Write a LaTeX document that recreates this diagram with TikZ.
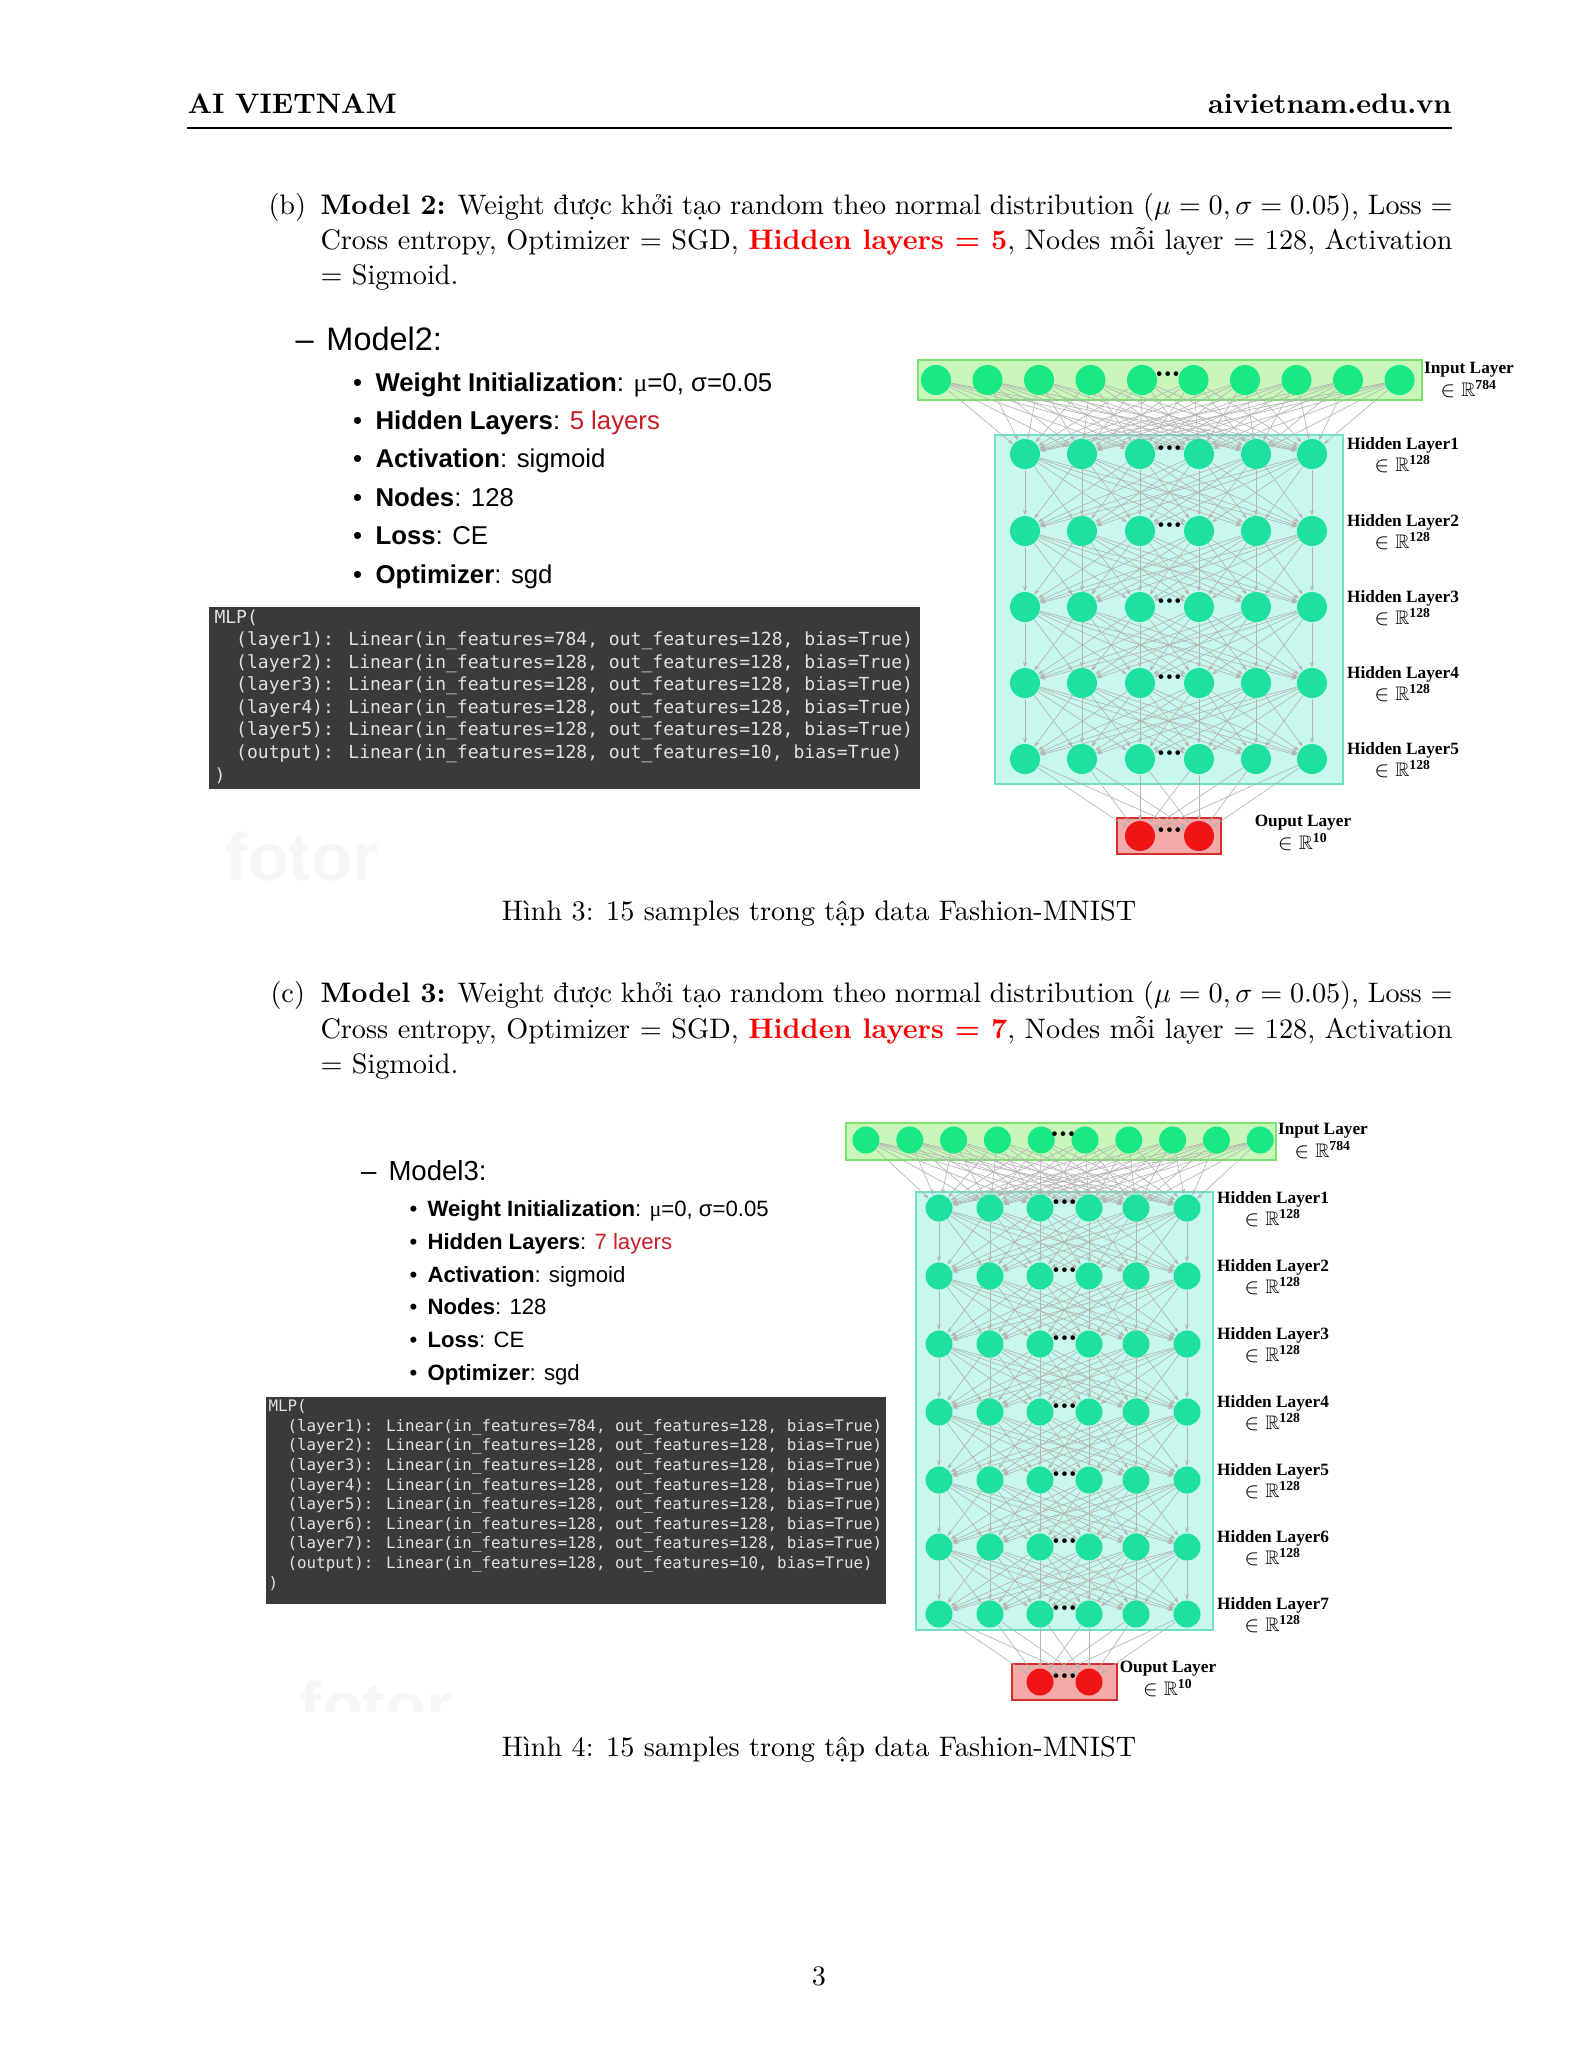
\documentclass[tikz,border=0pt]{standalone}
\usepackage{fontspec}
\usepackage{amssymb}
\usetikzlibrary{arrows.meta,backgrounds}
\pgfdeclarelayer{edges}
\pgfsetlayers{background,edges,main}

\newfontfamily\slidefont{Liberation Sans}
\newfontfamily\codefont{DejaVu Sans Mono}
\newfontfamily\netfont{Liberation Serif}

\newdimen\pxd
\pxd=0.013639cm
\newcommand\ind{\hspace*{1.204em}}
\newcommand\inR[1]{{\fontsize{7.6}{8}\selectfont$\in\mathbb{R}$\textsuperscript{#1}}}
\newcommand\netdots{{\netfont\bfseries\fontsize{11}{11}\selectfont ·\kern-0.4pt·\kern-0.4pt·}}

\definecolor{slidered}{RGB}{200,30,40}
\definecolor{codebg}{RGB}{58,58,58}
\definecolor{codefg}{RGB}{225,225,225}
\definecolor{inputnode}{RGB}{25,232,135}
\definecolor{hiddennode}{RGB}{30,225,160}
\definecolor{outputnode}{RGB}{240,20,20}
\definecolor{inputfill}{RGB}{200,247,185}
\definecolor{inputline}{RGB}{125,225,110}
\definecolor{hiddenfill}{RGB}{200,248,235}
\definecolor{hiddenline}{RGB}{110,225,200}
\definecolor{outputfill}{RGB}{245,170,170}
\definecolor{outputline}{RGB}{215,45,45}
\definecolor{edgegray}{RGB}{180,180,180}

\tikzset{
    body/.style      = {font=\fontsize{10.95}{13.6}\selectfont, inner sep=0pt,
                        text height=0.7em, text depth=0.2em},
    headtext/.style  = {body, font=\fontsize{10.95}{13.6}\selectfont\bfseries},
    headA/.style     = {anchor=west, inner sep=0pt, text height=0.75em, text depth=0.2em,
                        font=\slidefont\fontsize{12.6}{15}\selectfont},
    bulletA/.style   = {anchor=west, inner sep=0pt, text height=0.75em, text depth=0.2em,
                        font=\slidefont\fontsize{10}{12}\selectfont},
    headB/.style     = {headA, font=\slidefont\fontsize{10.7}{13}\selectfont},
    bulletB/.style   = {bulletA, font=\slidefont\fontsize{8.6}{10.5}\selectfont},
    codebox/.style   = {fill=codebg, draw=none, inner sep=0pt, anchor=north west},
    codetext/.style  = {text=codefg, align=left, inner sep=0pt, anchor=north west},
    watermark/.style = {font=\slidefont\bfseries\fontsize{26}{26}\selectfont,
                        text=black!3.5, inner sep=0pt},
    innode/.style    = {circle, fill=inputnode, inner sep=0pt},
    hidnode/.style   = {circle, fill=hiddennode, inner sep=0pt},
    outnode/.style   = {circle, fill=outputnode, inner sep=0pt},
    inbox/.style     = {draw=inputline, fill=inputfill, line width=1pt},
    hidbox/.style    = {draw=hiddenline, fill=hiddenfill, line width=1pt},
    outbox/.style    = {draw=outputline, fill=outputfill, line width=1pt},
    edge/.style      = {draw=edgegray, line width=0.25pt,
                        -{Stealth[length=0.8mm, width=0.55mm]}},
    ellip/.style     = {midway, yshift=1pt, inner sep=0pt},
    netlabel/.style  = {font=\netfont\bfseries\fontsize{6.7}{7.4}\selectfont,
                        align=center, inner sep=0pt}
}

\begin{document}
\begin{tikzpicture}[x=\pxd, y=-\pxd]
\useasboundingbox (0,0) rectangle (1583,2048);
\begin{scope}[on background layer]
  \fill[white] (0,0) rectangle (1583,2048);
\end{scope}

% ================= Page header =================
\node[headtext, anchor=west] (title) at (187,107) {AI VIETNAM};
\node[headtext, anchor=east] (site) at (1452,107) {aivietnam.edu.vn};
\draw[line width=0.5pt] (187,128) -- (1452,128);

% ================= Item (b) =================
\node[body, anchor=west] (itemb) at (268,208) {(b)};
\node[body, anchor=west] (itemb1) at (320,208) {\makebox[1132\pxd][s]{\textbf{Model 2:} Weight được khởi tạo random theo normal distribution ($\mu = 0, \sigma = 0.05$), Loss =}};
\node[body, anchor=west] (itemb2) at (320,243) {\makebox[1132\pxd][s]{Cross entropy, Optimizer = SGD, \textcolor{red}{\textbf{Hidden layers = 5}}, Nodes mỗi layer = 128, Activation}};
\node[body, anchor=west] (itemb3) at (320,278) {= Sigmoid.};

% ----- slide text, model 2
\node[headA] (m2head) at (295,343) {\makebox[31\pxd][l]{–}Model2:};
\foreach \y/\txt in {384/{\textbf{Weight Initialization}: {\netfont μ}=0, σ=0.05},
                     422.4/{\textbf{Hidden Layers}: \textcolor{slidered}{5 layers}},
                     460.8/{\textbf{Activation}: sigmoid},
                     499.2/{\textbf{Nodes}: 128},
                     537.6/{\textbf{Loss}: CE},
                     576/{\textbf{Optimizer}: sgd}}
  \node[bulletA] at (352.6,\y) {\makebox[22.4\pxd][l]{•}\txt};

% ----- printed model 2
\node[codebox, minimum width=711*\pxd, minimum height=182*\pxd] (mlpAbox) at (208,606) {};
\node[codetext, font=\codefont\fontsize{7}{8.75}\selectfont] (mlpA) at (214,609) {MLP(\\
\ind(layer1): Linear(in\_features=784, out\_features=128, bias=True)\\
\ind(layer2): Linear(in\_features=128, out\_features=128, bias=True)\\
\ind(layer3): Linear(in\_features=128, out\_features=128, bias=True)\\
\ind(layer4): Linear(in\_features=128, out\_features=128, bias=True)\\
\ind(layer5): Linear(in\_features=128, out\_features=128, bias=True)\\
\ind(output): Linear(in\_features=128, out\_features=10, bias=True)\\
)};
\node[watermark] (fotorA) at (302,857) {fotor};

% ----- network, model 2
\begin{scope}[on background layer]
  \draw[inbox]  (918,360) rectangle (1422,400);
  \draw[hidbox] (995,435) rectangle (1343,784);
  \draw[outbox] (1117,818) rectangle (1221,854);
\end{scope}
\foreach \i in {1,...,10}
  \node[innode, minimum size=30*\pxd] (inA\i) at ({936+(\i-1)*51.5},380) {};
\foreach \l/\y in {1/454,2/531,3/607,4/683,5/759}
  \foreach \j/\x in {1/1025,2/1082,3/1140,4/1199,5/1256,6/1312}
    \node[hidnode, minimum size=30*\pxd] (hA\l-\j) at (\x,\y) {};
\node[outnode, minimum size=30*\pxd] (outA1) at (1140,836) {};
\node[outnode, minimum size=30*\pxd] (outA2) at (1199,836) {};

\path (inA5) -- (inA6) node[ellip] (dinA) {\netdots};
\foreach \l in {1,...,5}
  \path (hA\l-3) -- (hA\l-4) node[ellip] (dhA\l) {\netdots};
\path (outA1) -- (outA2) node[ellip] (doutA) {\netdots};

\begin{pgfonlayer}{edges}
  \foreach \i in {1,...,10}
    \foreach \j in {1,...,6}
      \draw[edge] (inA\i) -- (hA1-\j);
  \foreach \l [evaluate=\l as \m using int(\l+1)] in {1,...,4}
    \foreach \i in {1,...,6}
      \foreach \j in {1,...,6}
        \draw[edge] (hA\l-\i) -- (hA\m-\j);
  \foreach \i in {1,...,6}
    \foreach \j in {1,2}
      \draw[edge] (hA5-\i) -- (outA\j);
\end{pgfonlayer}

\node[netlabel] (lblAin) at (1469,380) {Input Layer\\\inR{784}};
\foreach \l/\y in {1/454,2/531,3/607,4/683,5/759}
  \node[netlabel] (lblAh\l) at (1403,{\y+1}) {Hidden Layer\l\\\inR{128}};
\node[netlabel] (lblAout) at (1303,833) {Ouput Layer\\\inR{10}};

\node[body] (cap3) at (819,914) {Hình 3: 15 samples trong tập data Fashion-MNIST};

% ================= Item (c) =================
\node[body, anchor=west] (itemc) at (270,996) {(c)};
\node[body, anchor=west] (itemc1) at (320,996) {\makebox[1132\pxd][s]{\textbf{Model 3:} Weight được khởi tạo random theo normal distribution ($\mu = 0, \sigma = 0.05$), Loss =}};
\node[body, anchor=west] (itemc2) at (320,1032) {\makebox[1132\pxd][s]{Cross entropy, Optimizer = SGD, \textcolor{red}{\textbf{Hidden layers = 7}}, Nodes mỗi layer = 128, Activation}};
\node[body, anchor=west] (itemc3) at (320,1067) {= Sigmoid.};

% ----- slide text, model 3
\node[headB] (m3head) at (360.5,1173) {\makebox[27.5\pxd][l]{–}Model3:};
\foreach \y/\txt in {1209/{\textbf{Weight Initialization}: {\netfont μ}=0, σ=0.05},
                     1242/{\textbf{Hidden Layers}: \textcolor{slidered}{7 layers}},
                     1275/{\textbf{Activation}: sigmoid},
                     1307/{\textbf{Nodes}: 128},
                     1340/{\textbf{Loss}: CE},
                     1373/{\textbf{Optimizer}: sgd}}
  \node[bulletB] at (409,\y) {\makebox[18\pxd][l]{•}\txt};

% ----- printed model 3
\node[codebox, minimum width=620*\pxd, minimum height=207*\pxd] (mlpBbox) at (265,1396) {};
\node[codetext, font=\codefont\fontsize{6.15}{7.62}\selectfont] (mlpB) at (268,1399) {MLP(\\
\ind(layer1): Linear(in\_features=784, out\_features=128, bias=True)\\
\ind(layer2): Linear(in\_features=128, out\_features=128, bias=True)\\
\ind(layer3): Linear(in\_features=128, out\_features=128, bias=True)\\
\ind(layer4): Linear(in\_features=128, out\_features=128, bias=True)\\
\ind(layer5): Linear(in\_features=128, out\_features=128, bias=True)\\
\ind(layer6): Linear(in\_features=128, out\_features=128, bias=True)\\
\ind(layer7): Linear(in\_features=128, out\_features=128, bias=True)\\
\ind(output): Linear(in\_features=128, out\_features=10, bias=True)\\
)};
\begin{scope}
  \clip (290,1670) rectangle (470,1711);
  \node[watermark] (fotorB) at (376,1706) {fotor};
\end{scope}

% ----- network, model 3
\begin{scope}[on background layer]
  \draw[inbox]  (846,1123) rectangle (1276,1160);
  \draw[hidbox] (916,1192) rectangle (1213,1630);
  \draw[outbox] (1012,1664) rectangle (1117,1700);
\end{scope}
\foreach \i in {1,...,10}
  \node[innode, minimum size=27*\pxd] (inB\i) at ({866+(\i-1)*43.8},1140) {};
\foreach \l/\y in {1/1208,2/1276,3/1344,4/1412,5/1480,6/1547,7/1614}
  \foreach \j/\x in {1/939,2/990,3/1040,4/1089,5/1136,6/1187}
    \node[hidnode, minimum size=27*\pxd] (hB\l-\j) at (\x,\y) {};
\node[outnode, minimum size=27*\pxd] (outB1) at (1040,1682) {};
\node[outnode, minimum size=27*\pxd] (outB2) at (1089,1682) {};

\path (inB5) -- (inB6) node[ellip] (dinB) {\netdots};
\foreach \l in {1,...,7}
  \path (hB\l-3) -- (hB\l-4) node[ellip] (dhB\l) {\netdots};
\path (outB1) -- (outB2) node[ellip] (doutB) {\netdots};

\begin{pgfonlayer}{edges}
  \foreach \i in {1,...,10}
    \foreach \j in {1,...,6}
      \draw[edge] (inB\i) -- (hB1-\j);
  \foreach \l [evaluate=\l as \m using int(\l+1)] in {1,...,6}
    \foreach \i in {1,...,6}
      \foreach \j in {1,...,6}
        \draw[edge] (hB\l-\i) -- (hB\m-\j);
  \foreach \i in {1,...,6}
    \foreach \j in {1,2}
      \draw[edge] (hB7-\i) -- (outB\j);
\end{pgfonlayer}

\node[netlabel] (lblBin) at (1323,1141) {Input Layer\\\inR{784}};
\foreach \l/\y in {1/1208,2/1276,3/1344,4/1412,5/1480,6/1547,7/1614}
  \node[netlabel] (lblBh\l) at (1273,{\y+1}) {Hidden Layer\l\\\inR{128}};
\node[netlabel] (lblBout) at (1168,1679) {Ouput Layer\\\inR{10}};

\node[body] (cap4) at (819,1750) {Hình 4: 15 samples trong tập data Fashion-MNIST};

% ================= Page number =================
\node[body] (pageno) at (819,1979) {3};

\end{tikzpicture}
\end{document}
